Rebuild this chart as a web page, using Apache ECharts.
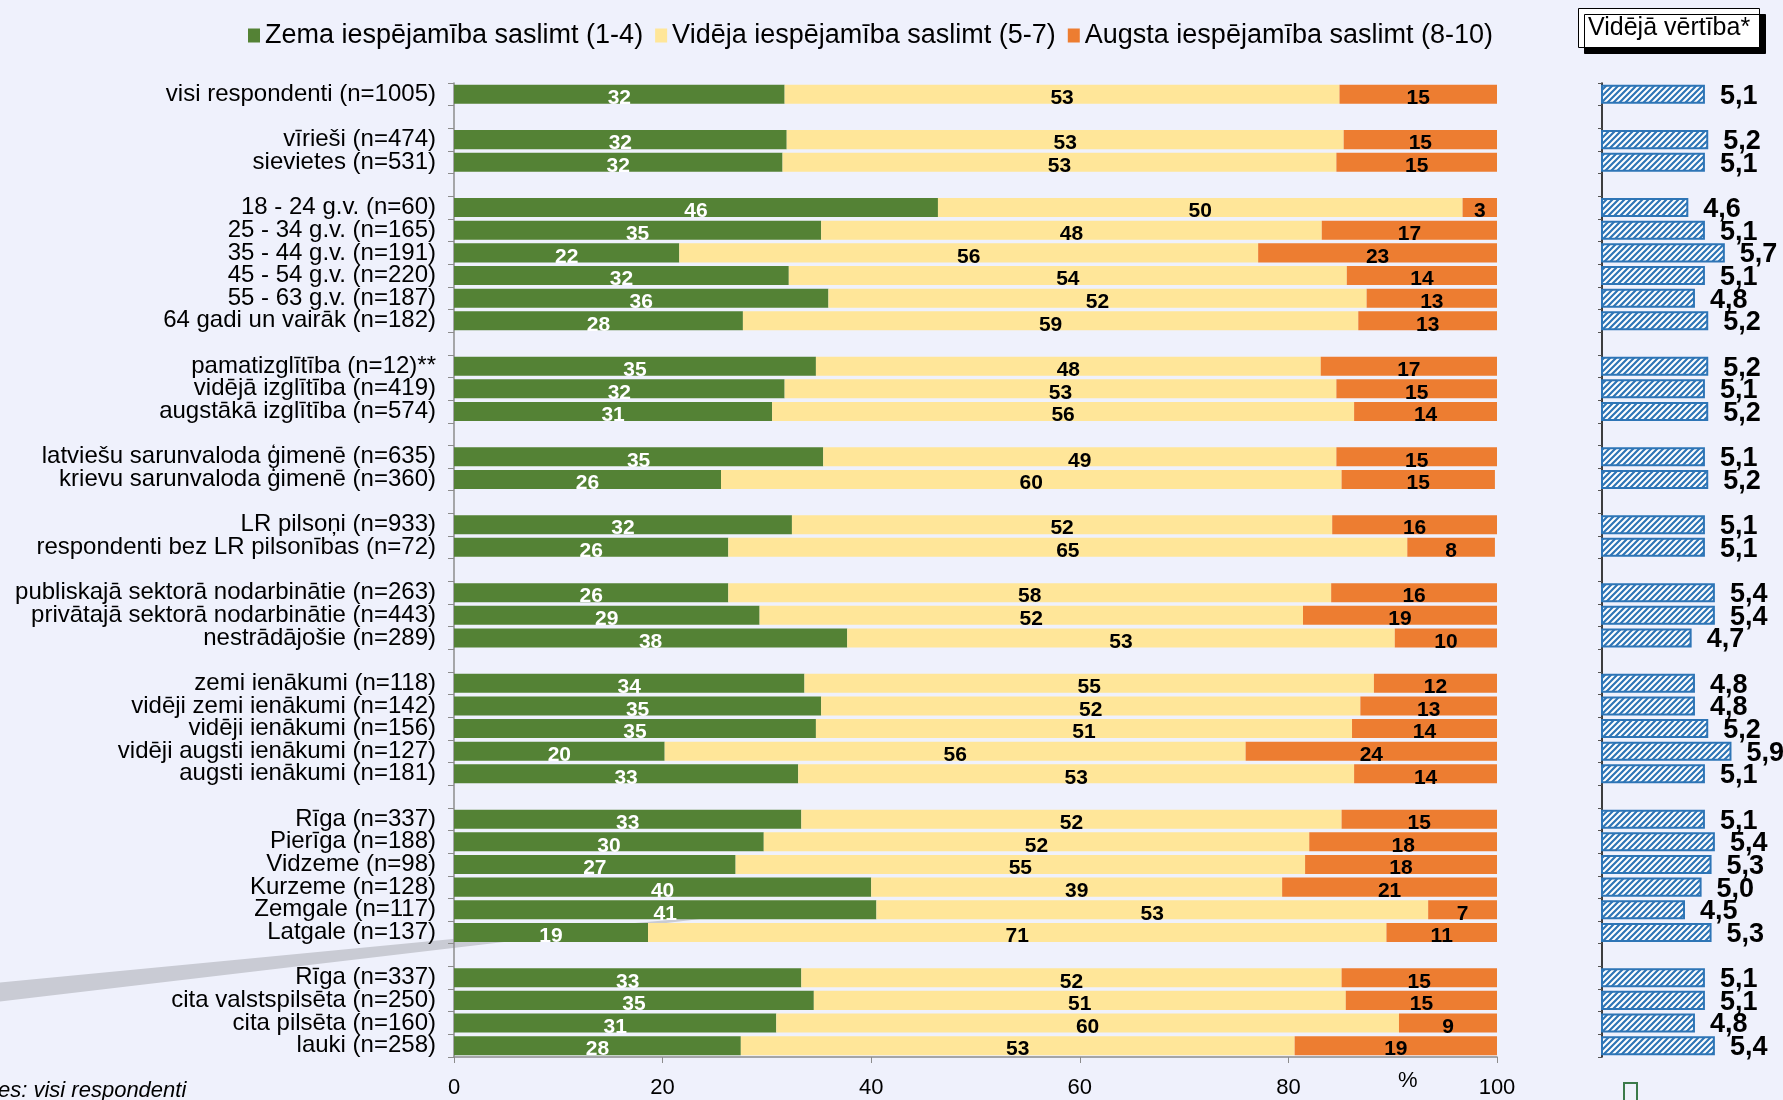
<!DOCTYPE html>
<html>
<head>
<meta charset="utf-8">
<script src="https://cdn.jsdelivr.net/npm/echarts@6/dist/echarts.min.js"></script>
<style>
  html, body { margin: 0; padding: 0; background: #f0f2fd; }
  #chart { width: 1783px; height: 1100px; }
</style>
</head>
<body>
<div id="chart"></div>
<script>
// respondentu grupas ('' = tukša rinda starp grupām)
const categories = [
  'visi respondenti (n=1005)', '',
  'vīrieši (n=474)', 'sievietes (n=531)', '',
  '18 - 24 g.v. (n=60)', '25 - 34 g.v. (n=165)', '35 - 44 g.v. (n=191)',
  '45 - 54 g.v. (n=220)', '55 - 63 g.v. (n=187)', '64 gadi un vairāk (n=182)', '',
  'pamatizglītība (n=12)**', 'vidējā izglītība (n=419)', 'augstākā izglītība (n=574)', '',
  'latviešu sarunvaloda ģimenē (n=635)', 'krievu sarunvaloda ģimenē (n=360)', '',
  'LR pilsoņi (n=933)', 'respondenti bez LR pilsonības (n=72)', '',
  'publiskajā sektorā nodarbinātie (n=263)', 'privātajā sektorā nodarbinātie (n=443)', 'nestrādājošie (n=289)', '',
  'zemi ienākumi (n=118)', 'vidēji zemi ienākumi (n=142)', 'vidēji ienākumi (n=156)',
  'vidēji augsti ienākumi (n=127)', 'augsti ienākumi (n=181)', '',
  'Rīga (n=337)', 'Pierīga (n=188)', 'Vidzeme (n=98)', 'Kurzeme (n=128)', 'Zemgale (n=117)', 'Latgale (n=137)', '',
  'Rīga (n=337)', 'cita valstspilsēta (n=250)', 'cita pilsēta (n=160)', 'lauki (n=258)'
]

const seriesNames = [
  'Zema iespējamība saslimt (1-4)',
  'Vidēja iespējamība saslimt (5-7)',
  'Augsta iespējamība saslimt (8-10)'
]

const lowValues = [
  31.7, null,
  31.9, 31.5, null,
  46.4, 35.2, 21.6, 32.1, 35.9, 27.7, null,
  34.7, 31.7, 30.5, null,
  35.4, 25.6, null,
  32.4, 26.3, null,
  26.3, 29.3, 37.7, null,
  33.6, 35.2, 34.7, 20.2, 33.0, null,
  33.3, 29.7, 27.0, 40.0, 40.5, 18.6, null,
  33.3, 34.5, 30.9, 27.5
]

const midValues = [
  53.2, null,
  53.4, 53.1, null,
  50.3, 48.0, 55.5, 53.5, 51.6, 59.0, null,
  48.4, 52.9, 55.8, null,
  49.2, 59.5, null,
  51.8, 65.1, null,
  57.8, 52.1, 52.5, null,
  54.6, 51.7, 51.4, 55.7, 53.3, null,
  51.8, 52.3, 54.6, 39.4, 52.9, 70.8, null,
  51.8, 51.0, 59.7, 53.1
]

const highValues = [
  15.1, null,
  14.7, 15.4, null,
  3.3, 16.8, 22.9, 14.4, 12.5, 13.3, null,
  16.9, 15.4, 13.7, null,
  15.4, 14.7, null,
  15.8, 8.4, null,
  15.9, 18.6, 9.8, null,
  11.8, 13.1, 13.9, 24.1, 13.7, null,
  14.9, 18.0, 18.4, 20.6, 6.6, 10.6, null,
  14.9, 14.5, 9.4, 19.4
]

// vidējā vērtība skalā 1-10
const meanValues = [
  5.1, null,
  5.2, 5.1, null,
  4.6, 5.1, 5.7, 5.1, 4.8, 5.2, null,
  5.2, 5.1, 5.2, null,
  5.1, 5.2, null,
  5.1, 5.1, null,
  5.4, 5.4, 4.7, null,
  4.8, 4.8, 5.2, 5.9, 5.1, null,
  5.1, 5.4, 5.3, 5.0, 4.5, 5.3, null,
  5.1, 5.1, 4.8, 5.4
]

const xTicks = [0, 20, 40, 60, 80, 100]

const FONT = '"Liberation Sans", Arial, sans-serif'
const colors = ['#548235', '#ffe699', '#ed7d31']

// slīpu svītru raksts vidējo vērtību stabiņiem
const hatch = document.createElement('canvas')
hatch.width = 6
hatch.height = 6
const hctx = hatch.getContext('2d')
hctx.fillStyle = '#ffffff'
hctx.fillRect(0, 0, 6, 6)
hctx.strokeStyle = '#2e75b6'
hctx.lineWidth = 2.2
hctx.beginPath()
hctx.moveTo(-1, 7); hctx.lineTo(7, -1)
hctx.moveTo(-4, 4); hctx.lineTo(4, -4)
hctx.moveTo(2, 10); hctx.lineTo(10, 2)
hctx.stroke()

const chart = echarts.init(document.getElementById('chart'))

const stackSeries = seriesNames.map((name, i) => ({
  name: name,
  type: 'bar',
  stack: 'total',
  xAxisIndex: 0,
  yAxisIndex: 0,
  barCategoryGap: '16%',
  data: [lowValues, midValues, highValues][i],
  itemStyle: { color: colors[i] },
  label: {
    show: true,
    position: 'inside',
    offset: [0, 4],
    fontFamily: FONT,
    fontSize: 21,
    fontWeight: 'bold',
    color: i === 0 ? '#ffffff' : '#000000',
    formatter: p => (p.value == null ? '' : Math.round(p.value))
  }
}))

const option = {
  animation: false,
  backgroundColor: '#eff1fc',
  textStyle: { fontFamily: FONT },
  title: {
    text: 'Vidējā vērtība*',
    left: 1578,
    top: 8,
    padding: [6, 10, 6, 10],
    backgroundColor: '#ffffff',
    borderColor: '#000000',
    borderWidth: 1,
    shadowColor: '#000000',
    shadowBlur: 0,
    shadowOffsetX: 6,
    shadowOffsetY: 6,
    textStyle: { fontFamily: FONT, fontSize: 25, fontWeight: 'normal', color: '#000', lineHeight: 28 }
  },
  legend: {
    data: seriesNames,
    left: 243,
    top: 17,
    icon: 'rect',
    itemWidth: 12,
    itemHeight: 14,
    itemGap: 12,
    textStyle: { fontFamily: FONT, fontSize: 27, color: '#000' }
  },
  grid: [
    { left: 454, right: 286, top: 83, bottom: 43 },
    { left: 1602, right: 15, top: 83, bottom: 43 }
  ],
  xAxis: [
    {
      gridIndex: 0,
      type: 'value',
      min: xTicks[0],
      max: xTicks[xTicks.length - 1],
      interval: 20,
      splitLine: { show: false },
      axisLine: { show: true, lineStyle: { color: '#8c8c8c', width: 1.5 } },
      axisTick: { show: true, length: 6, lineStyle: { color: '#8c8c8c' } },
      axisLabel: { fontFamily: FONT, fontSize: 22, color: '#000', margin: 20 }
    },
    {
      gridIndex: 1,
      type: 'value',
      min: 2,
      max: 7,
      show: false
    }
  ],
  yAxis: [
    {
      gridIndex: 0,
      type: 'category',
      inverse: true,
      data: categories,
      axisLine: { lineStyle: { color: '#8c8c8c', width: 1.5 } },
      axisTick: { show: true, length: 6, interval: 0, lineStyle: { color: '#8c8c8c' } },
      axisLabel: { interval: 0, fontFamily: FONT, fontSize: 24, color: '#000', margin: 18 }
    },
    {
      gridIndex: 1,
      type: 'category',
      inverse: true,
      data: categories,
      axisLine: { lineStyle: { color: '#000000', width: 1.5 } },
      axisTick: { show: true, length: 4, interval: 0, lineStyle: { color: '#555' } },
      axisLabel: { show: false }
    }
  ],
  series: stackSeries.concat([{
    name: 'Vidējā vērtība',
    type: 'bar',
    xAxisIndex: 1,
    yAxisIndex: 1,
    barCategoryGap: '16%',
    data: meanValues,
    itemStyle: {
      color: { image: hatch, repeat: 'repeat' },
      borderColor: '#2e75b6',
      borderWidth: 2
    },
    label: {
      show: true,
      position: 'right',
      distance: 15,
      offset: [0, 2],
      fontFamily: FONT,
      fontSize: 27,
      fontWeight: 'bold',
      color: '#000',
      formatter: p => (p.value == null ? '' : p.value.toFixed(1).replace('.', ','))
    }
  }]),
  graphic: [
    {
      type: 'polygon',
      z: -1,
      shape: { points: [[-5, 983], [453, 939], [760, 912], [453, 948], [-5, 1002]] },
      style: { fill: '#c9cbd4' }
    },
    {
      type: 'text',
      left: 1398,
      top: 1070,
      style: { text: '%', font: '22px ' + FONT, fill: '#000' }
    },
    {
      type: 'text',
      left: -2,
      top: 1080,
      style: { text: 'es: visi respondenti', font: 'italic 22px ' + FONT, fill: '#000' }
    },
    {
      type: 'rect',
      shape: { x: 1624, y: 1083, width: 13, height: 22 },
      style: { fill: 'none', stroke: '#3b7a4a', lineWidth: 2 }
    }
  ]
}

chart.setOption(option)
</script>
</body>
</html>
